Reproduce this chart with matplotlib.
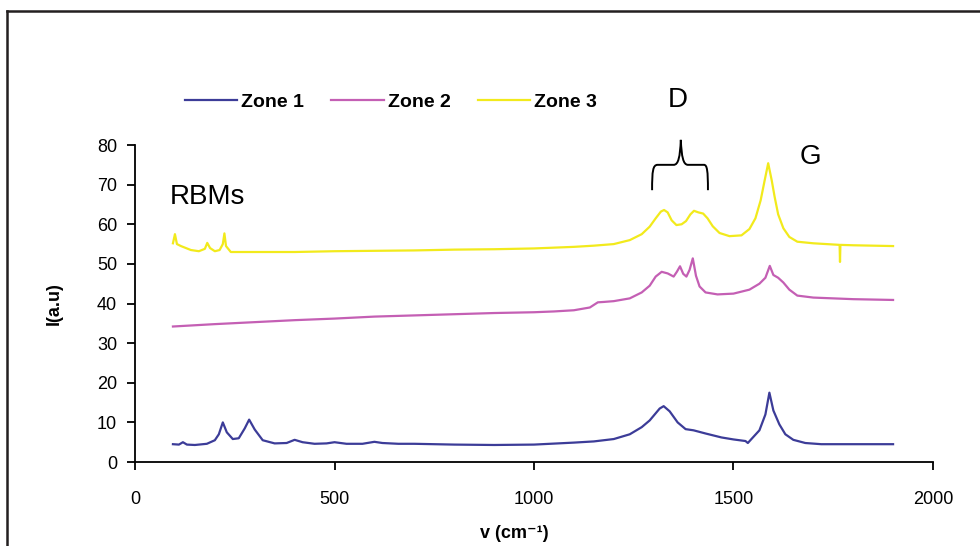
import matplotlib
matplotlib.use("Agg")
import matplotlib.pyplot as plt
from matplotlib.lines import Line2D
from matplotlib.path import Path
from matplotlib.patches import PathPatch

plt.rcParams['font.family'] = ['Liberation Sans', 'DejaVu Sans']

# Raman spectra
x1 = [95, 110, 120, 130, 150, 180, 200, 210, 220, 230, 245, 260, 275, 286, 300, 320, 350, 380, 400,
      420, 450, 480, 500, 530, 570, 600, 620, 660, 700, 800, 900, 1000, 1100, 1150, 1200, 1240, 1270,
      1290, 1305, 1315, 1325, 1340, 1360, 1380, 1400, 1430, 1470, 1500, 1530, 1536, 1545, 1565, 1580,
      1590, 1600, 1615, 1630, 1650, 1680, 1720, 1800, 1900]
y1 = [4.5, 4.4, 5.0, 4.4, 4.3, 4.6, 5.5, 7.0, 10.0, 7.5, 5.8, 6.0, 8.5, 10.7, 8.2, 5.5, 4.7, 4.8, 5.6,
      5.0, 4.6, 4.7, 5.0, 4.6, 4.6, 5.1, 4.8, 4.6, 4.6, 4.4, 4.3, 4.4, 4.9, 5.2, 5.8, 7.0, 8.8,
      10.5, 12.3, 13.5, 14.1, 12.8, 10.0, 8.3, 8.0, 7.2, 6.2, 5.7, 5.3, 4.8, 5.8, 8.0, 12.0,
      17.5, 13.0, 9.5, 7.0, 5.6, 4.8, 4.5, 4.5, 4.5]

x2 = [95, 200, 300, 400, 500, 600, 700, 800, 900, 1000, 1050, 1100, 1140, 1160, 1175, 1200, 1240,
      1270, 1290, 1305, 1320, 1335, 1350, 1358, 1366, 1374, 1382, 1390, 1398, 1406, 1415, 1430, 1460,
      1500, 1540, 1565, 1580, 1591, 1600, 1612, 1625, 1640, 1660, 1700, 1800, 1900]
y2 = [34.2, 34.8, 35.3, 35.8, 36.2, 36.7, 37.0, 37.3, 37.6, 37.8, 38.0, 38.3, 39.0, 40.3, 40.4, 40.6, 41.3,
      42.8, 44.5, 46.8, 48.0, 47.6, 46.8, 48.0, 49.4, 47.5, 46.8, 48.5, 51.4, 47.0, 44.3, 42.8, 42.3,
      42.5, 43.5, 45.0, 46.5, 49.5, 47.2, 46.5, 45.3, 43.5, 42.0, 41.5, 41.1, 40.9]

x3 = [95, 100, 105, 115, 140, 160, 175, 181, 188, 200, 212, 220, 224, 228, 240, 300, 400, 500, 600,
      700, 800, 900, 1000, 1100, 1150, 1200, 1240, 1270, 1290, 1305, 1318, 1326, 1335, 1345, 1357,
      1370, 1381, 1392, 1401, 1412, 1424, 1435, 1448, 1465, 1490, 1520, 1540, 1555, 1568, 1578, 1587,
      1596, 1603, 1612, 1625, 1640, 1660, 1700, 1766, 1767, 1768, 1800, 1900]
y3 = [55.2, 57.5, 55.0, 54.5, 53.5, 53.2, 53.8, 55.3, 54.0, 53.2, 53.5, 55.0, 57.7, 54.5, 53.0, 53.0,
      53.0, 53.2, 53.3, 53.4, 53.6, 53.7, 53.9, 54.3, 54.6, 55.0, 56.0, 57.5, 59.4, 61.5, 63.2, 63.6,
      63.0, 61.0, 59.8, 60.0, 60.8, 62.5, 63.4, 63.0, 62.7, 61.5, 59.5, 57.8, 57.0, 57.2, 58.8, 61.5,
      66.0, 71.0, 75.4, 71.0, 67.0, 62.5, 59.0, 56.8, 55.6, 55.2, 54.8, 50.5, 54.8, 54.7, 54.5]

labels = ["Zone 1", "Zone 2", "Zone 3"]
colors = ["#3c3c98", "#c45fb4", "#f2ea1c"]

fig = plt.figure(figsize=(9.8, 5.46), dpi=100)
ax = fig.add_axes([0.1378, 0.1538, 0.8142, 0.5806])

for xs, ys, lab, c in zip([x1, x2, x3], [y1, y2, y3], labels, colors):
    ax.plot(xs, ys, color=c, lw=1.6, label=lab)

ax.set_xlim(0, 2000)
ax.set_ylim(0, 80)
ax.set_xticks([0, 500, 1000, 1500, 2000])
ax.set_yticks(range(0, 81, 10))
ax.spines['top'].set_visible(False)
ax.spines['right'].set_visible(False)
ax.spines['left'].set_linewidth(1.3)
ax.spines['bottom'].set_linewidth(1.3)
ax.tick_params(axis='both', direction='out', length=6, width=1.3, labelsize=13)
ax.tick_params(axis='x', pad=15)
ax.tick_params(axis='y', pad=7)

ax.set_xlabel("v (cm⁻¹)", fontsize=13, fontweight='bold')
ax.xaxis.set_label_coords(0.475, -0.2)
ax.set_ylabel("I(a.u)", fontsize=13, fontweight='bold')
ax.yaxis.set_label_coords(-0.09, 0.5)

fig.legend(loc='center', bbox_to_anchor=(0.399, 0.813), ncol=3, frameon=False,
           prop={'weight': 'bold', 'size': 14}, handlelength=2.7, handletextpad=0.2,
           columnspacing=1.4)

# annotations
ax.text(88, 67, "RBMs", fontsize=20, ha='left', va='center')
ax.text(1360, 91.4, "D", fontsize=20, ha='center', va='center', clip_on=False)
ax.text(1694, 77, "G", fontsize=20, ha='center', va='center', clip_on=False)

verts = [(1296, 68.6), (1296, 73.5), (1298, 75), (1310, 75),
         (1350, 75), (1362, 75), (1366, 77), (1368, 81.3),
         (1370, 77), (1374, 75), (1386, 75),
         (1426, 75), (1434, 75), (1436, 73.5), (1436, 68.6)]
codes = [Path.MOVETO, Path.CURVE4, Path.CURVE4, Path.CURVE4,
         Path.LINETO, Path.CURVE4, Path.CURVE4, Path.CURVE4,
         Path.CURVE4, Path.CURVE4, Path.CURVE4,
         Path.LINETO, Path.CURVE4, Path.CURVE4, Path.CURVE4]
ax.add_patch(PathPatch(Path(verts, codes), fill=False, lw=1.4, color='black', clip_on=False))

# outer frame (top and left edges)
fig.add_artist(Line2D([0.0071, 1.0], [0.979, 0.979], transform=fig.transFigure, color='#231f20', lw=1.8))
fig.add_artist(Line2D([0.0071, 0.0071], [0.0, 0.979], transform=fig.transFigure, color='#231f20', lw=1.8))

fig.savefig("out.png", dpi=100)
